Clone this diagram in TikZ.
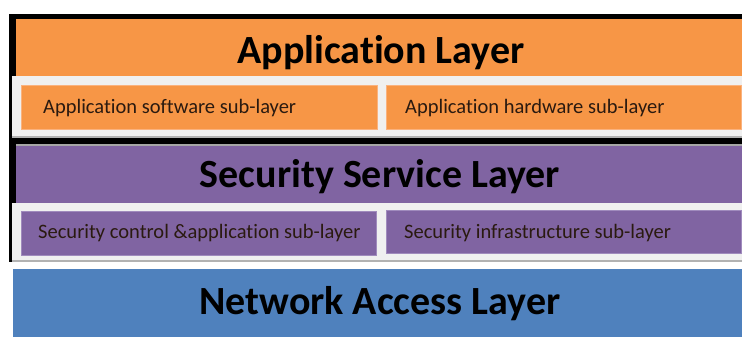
\documentclass[tikz,border=0pt]{standalone}
\usepackage{fontspec}
\setmainfont[Ligatures={NoCommon}]{Carlito}
\definecolor{appor}{HTML}{F79646}
\definecolor{appedge}{HTML}{FAB27E}
\definecolor{secpu}{HTML}{8064A2}
\definecolor{secedge}{HTML}{A08BBD}
\definecolor{netbl}{HTML}{4F81BD}
\definecolor{strip}{HTML}{F0F0F0}
\definecolor{subtxt}{HTML}{2A1A10}
\tikzset{
  layer/.style={anchor=base, inner sep=0pt, outer sep=0pt, font=\bfseries\fontsize{40}{44}\selectfont, text=black},
  sublbl/.style={anchor=base west, inner sep=0pt, font=\fontsize{20.5}{24}\selectfont, text=subtxt},
}
\begin{document}
\begin{tikzpicture}[x=1pt,y=-1pt]
\useasboundingbox (0,0) rectangle (742,341);
\fill[white] (0,0) rectangle (742,341);
% black frame
\fill[black] (9,14) rectangle (742,262);
% application layer
\fill[appor] (16,19) rectangle (742,77);
\fill[strip] (12,76) rectangle (742,136);
\fill[gray!60] (12,136) rectangle (742,138);
\fill[appor, draw=appedge, line width=1pt] (21,85) rectangle (377,129);
\fill[appor, draw=appedge, line width=1pt] (386,85) rectangle (741,129);
% security layer
\fill[gray!70] (16,144) rectangle (742,146);
\fill[secpu] (16,146) rectangle (742,203);
\fill[strip] (12,203) rectangle (742,260);
\fill[gray!60] (12,260) rectangle (742,262);
\fill[secpu, draw=secedge, line width=1pt] (21,211) rectangle (376,255);
\fill[secpu, draw=secedge, line width=1pt] (386,210) rectangle (741,253);
% network layer
\fill[netbl] (13,269) rectangle (742,337);
% labels
\node[layer] (app) at (381,63) {Application Layer};
\node[sublbl] (appsw) at (43,113) {Application software sub-layer};
\node[sublbl] (apphw) at (405,113) {Application hardware sub-layer};
\node[layer] (sec) at (380,187) {Security Service Layer};
\node[sublbl] (secctl) at (38,238) {Security control \&application sub-layer};
\node[sublbl] (secinf) at (404,238) {Security infrastructure sub-layer};
\node[layer] (net) at (380,314) {Network Access Layer};
\end{tikzpicture}
\end{document}
